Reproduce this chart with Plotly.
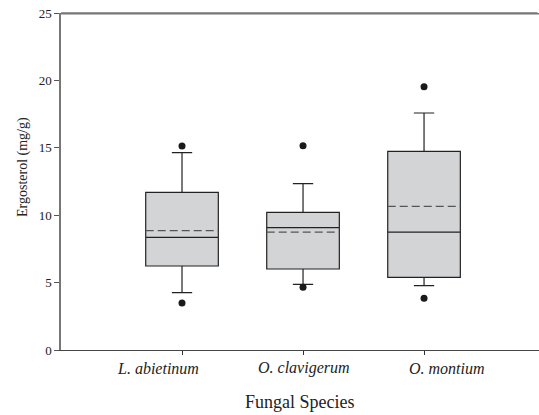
import plotly.graph_objects as go

categories = ["L. abietinum", "O. clavigerum", "O. montium"]
q1 = [6.23, 6.01, 5.39]
median = [8.36, 9.08, 8.75]
q3 = [11.70, 10.21, 14.74]
lower_whisker = [4.25, 4.87, 4.77]
upper_whisker = [14.64, 12.34, 17.58]
mean = [8.85, 8.75, 10.66]
outlier_low = [3.49, 4.65, 3.83]
outlier_high = [15.13, 15.16, 19.53]
y_ticks = [0, 5, 10, 15, 20, 25]

xpos = list(range(len(categories)))
label_shift = [-24, 1, 23]  # px offset of the spread-out category labels
box_width = 0.6
serif = "Liberation Serif, Times New Roman, serif"
W, H = 539, 415
M = dict(l=61, r=0, t=13, b=65)

fig = go.Figure()
fig.add_trace(go.Box(
    x=xpos, q1=q1, median=median, q3=q3,
    lowerfence=lower_whisker, upperfence=upper_whisker,
    boxpoints=False, width=box_width, whiskerwidth=0.28,
    fillcolor="#d3d4d6", line=dict(color="#222222", width=1.2),
    showlegend=False, hoverinfo="skip",
))
mx, my = [], []
for i, m in zip(xpos, mean):
    mx += [i - box_width / 2, i + box_width / 2, None]
    my += [m, m, None]
fig.add_trace(go.Scatter(
    x=mx, y=my, mode="lines",
    line=dict(color="#555555", width=1.2, dash="8px,4px"),
    showlegend=False, hoverinfo="skip",
))
fig.add_trace(go.Scatter(
    x=xpos + xpos, y=outlier_low + outlier_high, mode="markers",
    marker=dict(color="#1a1a1a", size=7), showlegend=False, hoverinfo="skip",
))

annotations = [dict(text="<i>" + c + "</i>", xref="x", yref="paper", x=i, y=0,
                    xshift=s, yshift=-18, yanchor="middle", showarrow=False,
                    font=dict(size=16, family=serif, color="#222222"))
               for i, c, s in zip(xpos, categories, label_shift)]
annotations.append(dict(text="Fungal Species", xref="paper", yref="paper", x=0.5, y=0,
                        yshift=-52, yanchor="middle", showarrow=False,
                        font=dict(size=18, family=serif, color="#222222")))
annotations.append(dict(text="Ergosterol (mg/g)", xref="paper", yref="paper",
                        x=0, y=0.543, xshift=-48, textangle=-90, showarrow=False,
                        font=dict(size=14, family=serif, color="#222222")))
# top frame line of the plot area (drawn as an arrow-less annotation line)
annotations.append(dict(text="", xref="paper", yref="paper", x=0, y=1,
                        ax=W - M["l"] - M["r"], ay=0, showarrow=True, arrowhead=0,
                        arrowwidth=1.5, arrowcolor="#777777", standoff=0, startstandoff=0))

fig.update_layout(
    width=W, height=H,
    margin=M,
    paper_bgcolor="white", plot_bgcolor="white",
    font=dict(family=serif, size=13, color="#222222"),
    xaxis=dict(
        range=[-1, 2.95], tickvals=xpos, showticklabels=False,
        ticks="outside", ticklen=4, tickcolor="#333333",
        showline=True, linecolor="#444444", linewidth=1.3,
        showgrid=False, zeroline=False, automargin=False,
    ),
    yaxis=dict(
        range=[0, 25], tickvals=y_ticks,
        ticks="outside", ticklen=5, tickcolor="#555555",
        showline=True, linecolor="#777777", linewidth=1.5,
        showgrid=False, zeroline=False, automargin=False,
        tickfont=dict(size=13, family=serif),
    ),
    shapes=[dict(type="line", xref="paper", yref="paper", x0=0, x1=1, y0=0.998, y1=0.998,
                 line=dict(color="#777777", width=1.5))],
    annotations=annotations,
)

fig.write_html("out.html",
               post_script="document.body.style.margin='0';document.body.style.overflow='hidden';"
                           "var mb=document.querySelector('.modebar-container');if(mb){mb.style.display='none';}")
